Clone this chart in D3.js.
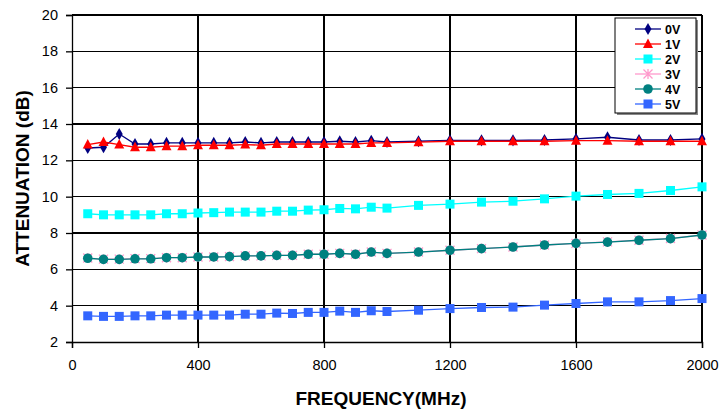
<!DOCTYPE html>
<html><head><meta charset="utf-8">
<script src="https://d3js.org/d3.v7.min.js"></script>
<style>body{margin:0;background:#fff}svg{display:block}</style>
</head><body><svg id="c" width="720" height="410"></svg>
<script>
const freqs = [50,100,150,200,250,300,350,400,450,500,550,600,650,700,750,800,850,900,950,1000,1100,1200,1300,1400,1500,1600,1700,1800,1900,2000];
const v0 = [12.68,12.72,13.45,12.9,12.9,12.96,12.96,12.96,12.96,12.96,13.01,12.96,13.01,13.01,13.01,13.01,13.05,13.01,13.08,13.01,13.05,13.1,13.1,13.1,13.12,13.18,13.27,13.12,13.12,13.18];
const v1 = [12.87,13.01,12.87,12.72,12.72,12.78,12.78,12.83,12.83,12.83,12.87,12.83,12.9,12.9,12.9,12.9,12.9,12.9,12.96,12.96,13.0,13.05,13.05,13.05,13.05,13.08,13.08,13.05,13.05,13.05];
const v2 = [9.06,9.0,9.0,9.0,9.0,9.06,9.06,9.1,9.12,9.15,9.15,9.15,9.2,9.2,9.26,9.28,9.35,9.33,9.42,9.37,9.52,9.59,9.7,9.75,9.88,10.03,10.12,10.18,10.34,10.54];
const v3 = [6.62,6.56,6.56,6.59,6.59,6.64,6.64,6.68,6.68,6.70,6.74,6.74,6.77,6.77,6.83,6.83,6.88,6.83,6.95,6.88,6.95,7.05,7.14,7.23,7.34,7.43,7.51,7.6,7.7,7.89];
const v4 = [6.61,6.55,6.55,6.58,6.58,6.64,6.64,6.68,6.68,6.70,6.74,6.74,6.77,6.77,6.83,6.83,6.88,6.83,6.95,6.88,6.95,7.05,7.14,7.23,7.34,7.43,7.5,7.6,7.69,7.89];
const v5 = [3.44,3.41,3.41,3.44,3.44,3.48,3.48,3.48,3.48,3.48,3.53,3.53,3.59,3.57,3.63,3.63,3.70,3.63,3.72,3.68,3.75,3.84,3.9,3.92,4.03,4.12,4.21,4.21,4.28,4.39];
const seriesNames = ["0V","1V","2V","3V","4V","5V"];
const xTicks = [0,400,800,1200,1600,2000];
const yTicks = [2,4,6,8,10,12,14,16,18,20];

const series = [
  {name:seriesNames[0], vals:v0, color:"#000080", marker:"diamond"},
  {name:seriesNames[1], vals:v1, color:"#FF0000", marker:"triangle"},
  {name:seriesNames[2], vals:v2, color:"#00FFFF", marker:"square"},
  {name:seriesNames[3], vals:v3, color:"#FF99CC", marker:"asterisk"},
  {name:seriesNames[4], vals:v4, color:"#008080", marker:"circle"},
  {name:seriesNames[5], vals:v5, color:"#3366FF", marker:"square"}
];

const FONT = "Liberation Sans, Arial, sans-serif";
const svg = d3.select("#c");
const L=72, R=702, T=15, B=342;
const x = d3.scaleLinear().domain([0,2000]).range([L,R]);
const y = d3.scaleLinear().domain([2,20]).range([B,T]);

// grid
svg.append("g").selectAll("line").data(yTicks.slice(1)).join("line")
  .attr("x1",L).attr("x2",R).attr("y1",d=>y(d)).attr("y2",d=>y(d))
  .attr("stroke","#000").attr("stroke-width",1.3).attr("shape-rendering","crispEdges");
svg.append("g").selectAll("line").data(xTicks.slice(1)).join("line")
  .attr("y1",T).attr("y2",B).attr("x1",d=>x(d)).attr("x2",d=>x(d))
  .attr("stroke","#000").attr("stroke-width",1.3).attr("shape-rendering","crispEdges");

// axes
const ya = svg.append("g").attr("transform",`translate(${L},0)`)
  .call(d3.axisLeft(y).tickValues(yTicks).tickFormat(d3.format("d")).tickSize(6).tickPadding(8));
const xa = svg.append("g").attr("transform",`translate(0,${B})`)
  .call(d3.axisBottom(x).tickValues(xTicks).tickFormat(d3.format("d")).tickSize(6).tickPadding(12));
[ya,xa].forEach(a=>{
  a.selectAll("text").attr("font-family",FONT).attr("font-size",14.5).attr("fill","#000");
  a.selectAll("path,line").attr("stroke","#000").attr("stroke-width",1.3);
});

// titles
svg.append("text").attr("transform",`translate(29,${(T+B)/2}) rotate(-90)`)
  .attr("text-anchor","middle").attr("font-family",FONT)
  .attr("font-weight","bold").attr("font-size",19).text("ATTENUATION (dB)");
svg.append("text").attr("x",381).attr("y",405)
  .attr("text-anchor","middle").attr("font-family",FONT)
  .attr("font-weight","bold").attr("font-size",19).text("FREQUENCY(MHz)");

function drawMarker(g, type, color){
  if(type==="diamond") g.append("path").attr("d",d3.symbol(d3.symbolDiamond,42)()).attr("fill",color);
  else if(type==="triangle") g.append("path").attr("d","M0,-5.5L5,4L-5,4Z").attr("fill",color);
  else if(type==="square") g.append("rect").attr("x",-4.5).attr("y",-4.5).attr("width",9).attr("height",9).attr("fill",color);
  else if(type==="circle") g.append("circle").attr("r",4.8).attr("fill",color);
  else if(type==="asterisk"){
    g.append("path").attr("d","M-4.5,-4.5L4.5,4.5M-4.5,4.5L4.5,-4.5M0,-5L0,5").attr("stroke",color).attr("stroke-width",1.3).attr("fill","none");
  }
}

const line = d3.line().x(d=>x(d[0])).y(d=>y(d[1]));
series.forEach(s=>{
  const pts = freqs.map((f,i)=>[f,s.vals[i]]);
  const g = svg.append("g");
  g.append("path").datum(pts).attr("d",line).attr("fill","none").attr("stroke",s.color).attr("stroke-width",1.3);
  g.selectAll("g").data(pts).join("g").attr("transform",d=>`translate(${x(d[0])},${y(d[1])})`)
    .each(function(){drawMarker(d3.select(this), s.marker, s.color);});
});

// legend
const lg = svg.append("g");
lg.append("rect").attr("x",617).attr("y",20).attr("width",81).attr("height",95).attr("fill","#888");
lg.append("rect").attr("x",615).attr("y",18).attr("width",81).attr("height",95).attr("fill","#fff").attr("stroke","#000").attr("stroke-width",1);
series.forEach((s,i)=>{
  const yy = 29 + i*15;
  lg.append("line").attr("x1",635).attr("x2",661).attr("y1",yy).attr("y2",yy).attr("stroke",s.color).attr("stroke-width",1.3);
  const m = lg.append("g").attr("transform",`translate(648,${yy})`);
  drawMarker(m, s.marker, s.color);
  lg.append("text").attr("x",665).attr("y",yy+4.5).attr("font-family",FONT)
    .attr("font-weight","bold").attr("font-size",12.5).text(s.name);
});
</script></body></html>
